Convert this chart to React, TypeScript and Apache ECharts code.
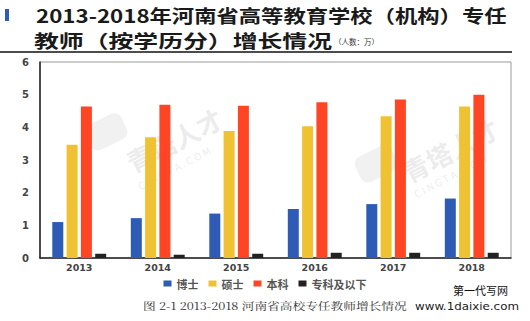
import React, { useEffect, useRef } from "react";
import * as echarts from "echarts";

const years = ["2013", "2014", "2015", "2016", "2017", "2018"];
const boshi = [1.1, 1.22, 1.36, 1.5, 1.65, 1.82];
const shuoshi = [3.47, 3.7, 3.89, 4.03, 4.34, 4.64];
const benke = [4.64, 4.69, 4.66, 4.77, 4.85, 5.0];
const zhuanke = [0.13, 0.1, 0.13, 0.16, 0.16, 0.16];
const seriesNames = ["博士", "硕士", "本科", "专科及以下"];
const colors = ["#2d5bb5", "#efc234", "#ff4524", "#222222"];

export default function App() {
  const ref = useRef<HTMLDivElement>(null);
  useEffect(() => {
    if (!ref.current) return;
    const chart = echarts.init(ref.current, undefined, { renderer: "svg" });
    const data = [boshi, shuoshi, benke, zhuanke];
    const cjk = '"Noto Sans CJK SC", "Noto Sans", sans-serif';
    const wm = "rgba(170,170,170,0.24)";
    chart.setOption({
      animation: false,
      backgroundColor: "#ffffff",
      grid: {
        left: 40,
        right: 19,
        top: 62,
        bottom: 63,
        show: true,
        borderColor: "#999999",
        borderWidth: 1,
      },
      legend: {
        top: 273,
        left: "center",
        itemWidth: 8,
        itemHeight: 6,
        itemGap: 10,
        icon: "rect",
        textStyle: { fontSize: 11, color: "#555", fontWeight: "bold", fontFamily: cjk },
        data: seriesNames,
      },
      xAxis: {
        type: "category",
        data: years,
        axisLine: { lineStyle: { color: "#222", width: 1.5 } },
        axisTick: { show: false },
        axisLabel: { fontSize: 9.5, fontWeight: "bold", color: "#444", margin: 4, fontFamily: '"DejaVu Sans", sans-serif' },
      },
      yAxis: {
        type: "value",
        min: 0,
        max: 6,
        interval: 1,
        axisLine: { show: true, lineStyle: { color: "#222", width: 1.5 } },
        axisTick: { show: false },
        splitLine: { show: false },
        axisLabel: { fontSize: 10, fontWeight: "bold", color: "#444", margin: 11, fontFamily: '"DejaVu Sans", sans-serif' },
      },
      series: data.map((d, i) => ({
        name: seriesNames[i],
        type: "bar",
        data: d,
        barWidth: 11,
        barGap: "30%",
        itemStyle: { color: colors[i] },
      })),
      graphic: [
        // watermarks
        { type: "rect", x: 82, y: 128, rotation: 0.45, shape: { x: 0, y: 0, width: 40, height: 28, r: 8 }, style: { fill: "rgba(190,190,190,0.22)" }, z: 0 },
        { type: "text", x: 122, y: 152, rotation: 0.48, style: { text: "青塔人才", font: "bold 26px " + cjk, fill: wm } },
        { type: "text", x: 136, y: 182, rotation: 0.48, style: { text: "C I N G T A . C O M", font: "10px " + cjk, fill: wm } },
        { type: "rect", x: 352, y: 160, rotation: 0.45, shape: { x: 0, y: 0, width: 40, height: 28, r: 8 }, style: { fill: "rgba(190,190,190,0.22)" }, z: 0 },
        { type: "text", x: 398, y: 162, rotation: 0.48, style: { text: "青塔人才", font: "bold 26px " + cjk, fill: wm } },
        { type: "text", x: 412, y: 190, rotation: 0.48, style: { text: "C I N G T A . C O M", font: "10px " + cjk, fill: wm } },
        // title
        { type: "rect", shape: { x: 5, y: 9, width: 4, height: 12 }, style: { fill: "#2d5bb5" } },
        {
          type: "text",
          x: 36,
          y: 15,
          scaleX: 1.24,
          style: {
            text: "2013-2018年河南省高等教育学校（机构）专任",
            font: "bold 18px " + cjk,
            fill: "#1a1a1a",
            verticalAlign: "middle",
          },
        },
        {
          type: "text",
          x: 34,
          y: 40,
          scaleX: 1.38,
          style: {
            text: "教师（按学历分）增长情况",
            font: "bold 18px " + cjk,
            fill: "#1a1a1a",
            verticalAlign: "middle",
          },
        },
        {
          type: "text",
          x: 334,
          y: 41,
          style: { text: "（人数：万）", font: "7.5px " + cjk, fill: "#333", verticalAlign: "middle" },
        },
        { type: "line", shape: { x1: 0, y1: 52, x2: 512, y2: 52 }, style: { stroke: "#111", lineWidth: 1.5 } },
        {
          type: "text",
          x: 143,
          y: 306,
          scaleX: 1.27,
          style: {
            text: "图 2-1 2013-2018 河南省高校专任教师增长情况",
            font: '10px "Noto Serif CJK SC", "Noto Sans CJK SC", serif',
            fill: "#333",
            verticalAlign: "middle",
          },
        },
        {
          type: "text",
          x: 453,
          y: 290,
          style: { text: "第一代写网", font: "11px " + cjk, fill: "#111", verticalAlign: "middle" },
        },
        {
          type: "text",
          x: 415,
          y: 306,
          scaleX: 1.2,
          style: { text: "www.1daixie.com", font: '11px "DejaVu Sans Condensed", "Liberation Sans Narrow", sans-serif', fill: "#222", verticalAlign: "middle" },
        },
      ],
    });
    return () => chart.dispose();
  }, []);
  return <div ref={ref} style={{ position: "absolute", left: 0, top: 0, width: 530, height: 321 }} />;
}
